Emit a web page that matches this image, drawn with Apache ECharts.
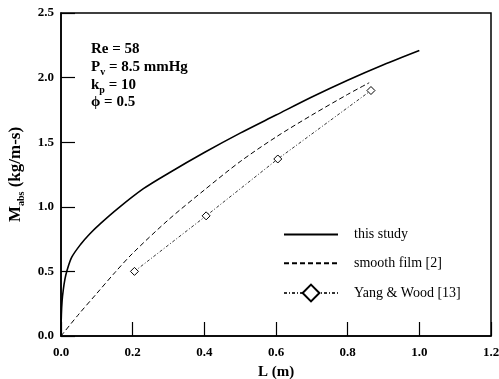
<!DOCTYPE html>
<html>
<head>
<meta charset="utf-8">
<script src="https://cdn.jsdelivr.net/npm/echarts@6/dist/echarts.min.js"></script>
<style>
  html, body { margin: 0; padding: 0; background: #fff; }
  #chart { width: 499px; height: 379px; }
</style>
</head>
<body>
<div id="chart"></div>
<script>
// Absorbed mass flow rate vs. film length
const seriesNames = ['this study', 'smooth film [2]', 'Yang & Wood [13]'];

// present model (solid curve): [L (m), M_abs (kg/m-s)]
const thisStudy = [
  [0.0, 0.0], [0.001, 0.16], [0.003, 0.27], [0.0065, 0.36], [0.011, 0.44],
  [0.016, 0.50], [0.03, 0.61], [0.055, 0.71], [0.08, 0.79], [0.11, 0.87],
  [0.16, 0.99], [0.23, 1.14], [0.3, 1.26], [0.4, 1.42], [0.5, 1.57],
  [0.6, 1.71], [0.7, 1.85], [0.8, 1.98], [0.9, 2.10], [1.0, 2.21]
];

// smooth film model (dashed curve)
const smoothFilm = [
  [0.0, 0.0], [0.05, 0.17], [0.1, 0.33], [0.15, 0.49], [0.2, 0.64],
  [0.3, 0.90], [0.4, 1.13], [0.5, 1.35], [0.6, 1.54], [0.7, 1.71],
  [0.8, 1.87], [0.86, 1.96]
];

// Yang & Wood data points
const yangWood = [
  [0.205, 0.50], [0.405, 0.93], [0.605, 1.37], [0.865, 1.90]
];

const xTicks = { min: 0, max: 1.2, step: 0.2 };
const yTicks = { min: 0, max: 2.5, step: 0.5 };

const serif = '"Liberation Serif", "DejaVu Serif", serif';

const chart = echarts.init(document.getElementById('chart'), null, { renderer: 'canvas' });

const axisCommon = {
  axisLine: { show: true, lineStyle: { color: '#000', width: 1.5 } },
  axisTick: { show: true, inside: true, length: 14, lineStyle: { color: '#000', width: 1.2 } },
  splitLine: { show: false },
  axisLabel: {
    color: '#000', fontFamily: serif, fontWeight: 'bold', fontSize: 13,
    formatter: v => v.toFixed(1)
  }
};

const subText = (main, sub, rest) => `{m|${main}}{s|${sub}}{m|${rest}}`;
const annRich = {
  m: { fontFamily: serif, fontWeight: 'bold', fontSize: 15, color: '#000', lineHeight: 20, verticalAlign: 'middle' },
  s: { fontFamily: serif, fontWeight: 'bold', fontSize: 10, color: '#000', lineHeight: 10, verticalAlign: 'bottom' }
};

// legend rows for the curves show only the line, no marker
const noMarker = { color: 'transparent', borderWidth: 0, opacity: 0 };

chart.setOption({
  backgroundColor: '#fff',
  animation: false,
  grid: {
    left: 61, right: 8, top: 13, bottom: 43,
    outerBoundsMode: 'none', containLabel: false,
    show: true, borderColor: '#000', borderWidth: 1.5, backgroundColor: 'transparent'
  },
  legend: {
    orient: 'vertical',
    left: 278, top: 221,
    itemWidth: 54, itemHeight: 21, itemGap: 12,
    data: [
      { name: seriesNames[0], itemStyle: noMarker },
      { name: seriesNames[1], itemStyle: noMarker },
      { name: seriesNames[2] }
    ],
    textStyle: { fontFamily: serif, fontSize: 14, color: '#000', padding: [0, 0, 0, 11] },
    inactiveColor: '#000'
  },
  xAxis: Object.assign({}, axisCommon, {
    type: 'value', min: xTicks.min, max: xTicks.max, interval: xTicks.step,
    name: 'L (m)', nameLocation: 'middle', nameGap: 29,
    nameTextStyle: { fontFamily: serif, fontWeight: 'bold', fontSize: 15, color: '#000' },
    axisLabel: Object.assign({}, axisCommon.axisLabel, { margin: 10 })
  }),
  yAxis: Object.assign({}, axisCommon, {
    type: 'value', min: yTicks.min, max: yTicks.max, interval: yTicks.step,
    name: '{m|M}{s|abs}{m| (kg/m-s)}', nameLocation: 'middle', nameGap: 33, nameRotate: 90,
    nameTextStyle: {
      rich: {
        m: { fontFamily: serif, fontWeight: 'bold', fontSize: 17, color: '#000', lineHeight: 22, verticalAlign: 'middle' },
        s: { fontFamily: serif, fontWeight: 'bold', fontSize: 10, color: '#000', lineHeight: 10, verticalAlign: 'bottom' }
      }
    },
    axisLabel: Object.assign({}, axisCommon.axisLabel, { margin: 7 })
  }),
  graphic: [
    { type: 'text', left: 91, top: 42, style: { text: '{m|Re = 58}', rich: annRich } },
    { type: 'text', left: 91, top: 60, style: { text: subText('P', 'v', ' = 8.5 mmHg'), rich: annRich } },
    { type: 'text', left: 91, top: 78, style: { text: subText('k', 'p', ' = 10'), rich: annRich } },
    { type: 'text', left: 91, top: 95, style: { text: '{m|\u03D5 = 0.5}', rich: annRich } }
  ],
  series: [
    {
      name: seriesNames[0], type: 'line', data: thisStudy, smooth: 0.3,
      symbol: 'none', lineStyle: { color: '#000', width: 1.6, type: 'solid' },
      itemStyle: { color: '#000' }
    },
    {
      name: seriesNames[1], type: 'line', data: smoothFilm, smooth: 0.3,
      symbol: 'none', lineStyle: { color: '#000', width: 1, type: [5, 3] },
      itemStyle: { color: '#000' }
    },
    {
      name: seriesNames[2], type: 'line', data: yangWood,
      symbol: 'diamond', symbolSize: 8,
      lineStyle: { color: '#333', width: 1, type: [3, 2, 1, 2] },
      itemStyle: { color: '#fff', borderColor: '#000', borderWidth: 1 }
    }
  ]
});
</script>
</body>
</html>
